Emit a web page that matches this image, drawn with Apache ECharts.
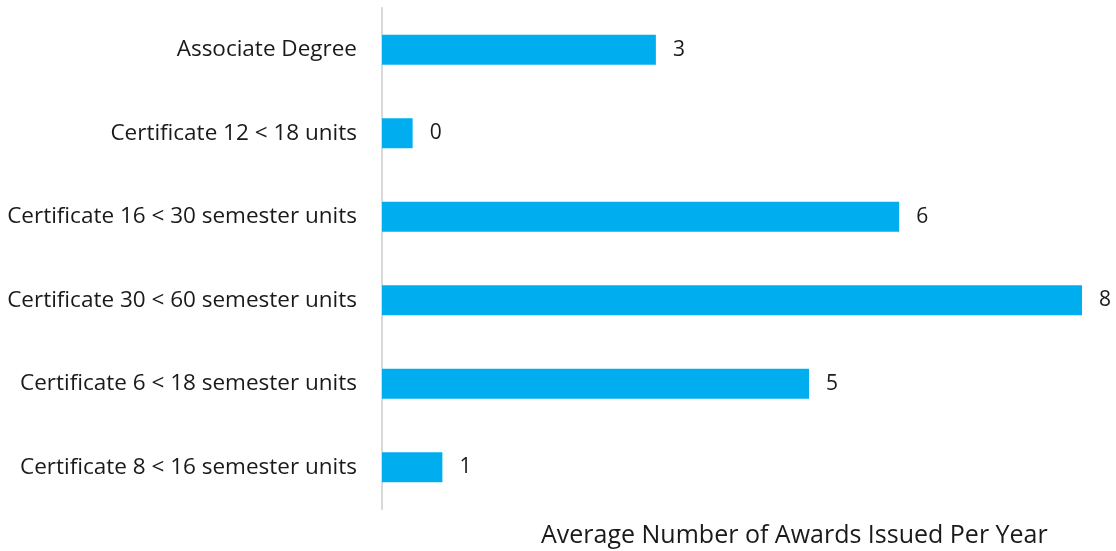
<!DOCTYPE html>
<html>
<head>
<meta charset="utf-8">
<script src="https://cdn.jsdelivr.net/npm/echarts@6/dist/echarts.min.js"></script>
<style>html,body{margin:0;padding:0;background:#fff;}#c{width:1116px;height:551px;}</style>
</head>
<body>
<div id="c"></div>
<script>
const categories = [
  "Associate Degree",
  "Certificate 12 < 18 units",
  "Certificate 16 < 30 semester units",
  "Certificate 30 < 60 semester units",
  "Certificate 6 < 18 semester units",
  "Certificate 8 < 16 semester units"
];
const values = [3.13, 0.35, 5.91, 8.0, 4.88, 0.69];
const axisTitle = "Average Number of Awards Issued Per Year";

const FONT = "Open Sans";
const chart = echarts.init(document.getElementById('c'));
chart.setOption({
  animation: false,
  title: {
    text: axisTitle,
    left: 536, top: 518,
    textStyle: { fontFamily: FONT, fontSize: 25, fontWeight: 'normal', color: '#1a1a1a' }
  },
  grid: { left: 382, right: 34, top: 8, bottom: 42, containLabel: false },
  xAxis: {
    type: 'value', min: 0, max: 'dataMax',
    axisLine: { show: false }, axisTick: { show: false },
    axisLabel: { show: false }, splitLine: { show: false }
  },
  yAxis: {
    type: 'category', data: categories, inverse: true,
    axisLine: { show: true, lineStyle: { color: '#d9d9d9', width: 2 } },
    axisTick: { show: false },
    axisLabel: { margin: 25, fontFamily: FONT, fontSize: 22.5, color: '#1a1a1a', padding: [6, 0, 0, 0] }
  },
  series: [{
    type: 'bar', data: values, barWidth: 30,
    itemStyle: { color: '#00aeef' },
    label: {
      show: true, position: 'right', distance: 17,
      fontFamily: FONT, fontSize: 21, color: '#1a1a1a', padding: [6, 0, 0, 0],
      formatter: p => String(Math.round(p.value))
    }
  }]
});
</script>
</body>
</html>
